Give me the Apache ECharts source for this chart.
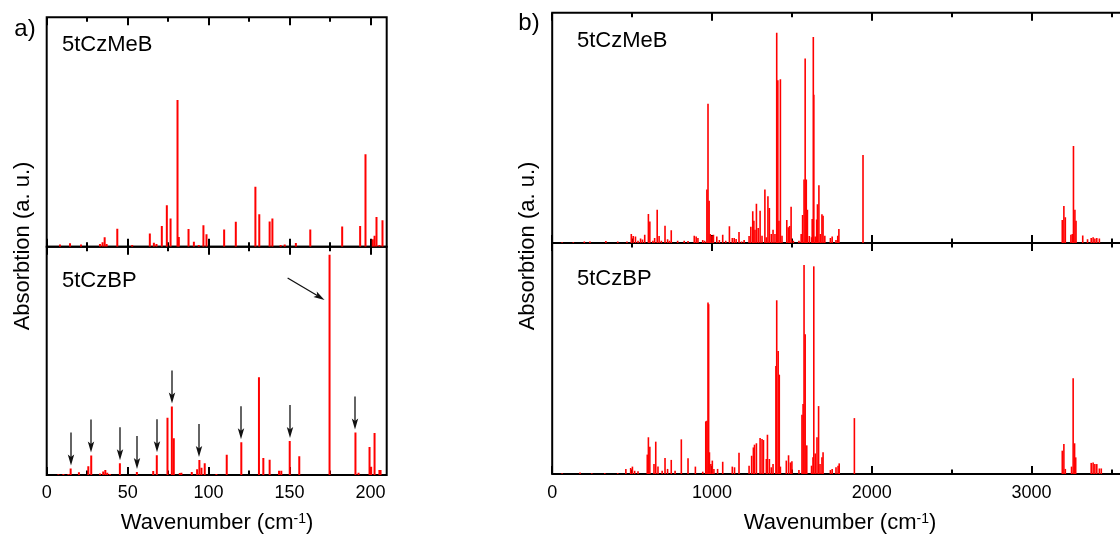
<!DOCTYPE html>
<html><head><meta charset="utf-8">
<script src="https://cdn.jsdelivr.net/npm/echarts@6/dist/echarts.min.js"></script>
<style>html,body{margin:0;padding:0;background:#fff}#c{width:1120px;height:543px}</style>
</head><body><div id="c"></div>
<script>
const FONT = '"Liberation Sans", Arial, sans-serif';

// ---- Panel a: low-frequency region (wavenumber cm^-1, absorption a.u. as % of frame) ----
const lowMeB = [[8.2,1.0],[14.4,1.5],[21.2,1.0],[32.9,1.2],[34.5,1.9],[35.8,4.1],[37.0,1.2],[43.6,7.8],[52.8,0.7],[63.7,5.8],[66.2,1.7],[67.8,1.2],[71.1,9.0],[74.2,18.1],[76.5,12.3],[80.8,63.9],[81.6,4.2],[87.6,7.7],[90.9,2.2],[93.9,0.7],[96.8,9.3],[98.7,5.4],[109.6,7.5],[116.8,10.9],[128.9,26.1],[131.3,14.2],[137.7,11.0],[139.4,12.3],[144.5,0.7],[147.0,1.0],[153.9,1.6],[162.8,7.5],[182.5,8.8],[193.6,9.0],[196.9,40.3],[201.4,3.2],[202.5,4.8],[203.7,12.9],[205.5,0.7],[207.4,11.5]];
const lowBP = [[7.2,0.3],[10.3,0.4],[13.4,0.4],[14.8,2.8],[19.9,1.2],[25.7,3.8],[27.5,8.5],[32.9,0.7],[34.9,1.5],[36.2,2.2],[37.4,1.0],[39.1,0.4],[45.2,5.1],[55.7,1.3],[65.8,1.8],[68.0,8.6],[74.6,25.1],[77.3,30.0],[78.5,16.1],[82.2,0.9],[83.2,1.0],[89.6,1.3],[92.9,2.5],[94.3,6.6],[95.6,3.2],[97.6,5.1],[104.8,0.4],[111.2,8.9],[120.2,14.3],[131.1,42.8],[133.8,7.5],[137.7,6.7],[143.5,1.9],[144.9,1.9],[150.1,14.9],[156.0,8.2],[174.7,96.5],[190.7,18.6],[192.6,1.0],[199.4,12.3],[200.4,3.6],[202.5,18.4],[205.5,2.2],[206.2,2.2]];
// bars marked with vertical arrows (wavenumbers)
const arrowTargets = [14.8,27.5,45.2,55.7,68.0,77.3,94.3,120.2,150.1,190.7];
// diagonal arrow pointing at the strongest 5tCzBP band: [from, to] in data space
const pointerArrow = [[148.8,86.3],[171.6,76.7]];

// ---- Panel b: full range ----
const fullMeB = [[62,0.3],[132,0.3],[201,0.6],[236,0.6],[336,0.9],[410,0.6],[468,0.7],[495,3.9],[507,3.0],[521,2.8],[537,1.0],[553,2.0],[565,1.5],[579,3.6],[602,12.6],[611,9.3],[630,1.0],[641,2.2],[657,14.4],[669,3.0],[683,1.0],[706,7.5],[722,1.6],[734,1.0],[745,5.5],[785,1.0],[826,1.0],[850,0.9],[889,3.2],[901,2.8],[912,2.2],[942,1.3],[954,1.0],[968,23.2],[975,60.5],[982,18.3],[989,3.9],[1000,3.2],[1009,3.6],[1030,2.8],[1046,1.3],[1067,3.6],[1086,1.0],[1109,7.3],[1127,2.2],[1139,2.2],[1151,1.7],[1169,4.8],[1185,0.7],[1201,1.3],[1232,3.0],[1243,7.1],[1255,13.8],[1262,9.7],[1269,5.7],[1278,17.0],[1289,6.5],[1301,14.0],[1313,3.2],[1331,23.2],[1340,2.5],[1350,20.3],[1359,15.2],[1371,3.9],[1382,5.7],[1394,3.9],[1405,91.3],[1412,70.7],[1419,9.7],[1428,71.1],[1438,3.2],[1468,10.0],[1477,6.8],[1486,7.4],[1495,15.7],[1509,1.0],[1544,1.0],[1558,3.9],[1567,12.2],[1576,27.6],[1583,80.1],[1590,27.6],[1597,14.4],[1609,3.0],[1623,2.5],[1627,10.4],[1634,89.5],[1637,64.4],[1646,2.8],[1655,10.2],[1660,16.8],[1669,25.1],[1678,3.9],[1688,12.5],[1695,11.8],[1706,3.2],[1741,2.2],[1752,2.8],[1776,1.3],[1787,3.2],[1794,6.1],[1945,38.2],[3192,10.0],[3202,16.1],[3211,11.2],[3246,3.6],[3255,3.9],[3262,42.1],[3271,14.4],[3278,9.7],[3320,3.3],[3350,1.6],[3373,2.2],[3385,2.5],[3396,1.9],[3408,2.2],[3424,1.9]];
const fullBP = [[62,0.3],[174,0.7],[248,0.3],[329,0.4],[410,0.4],[461,2.2],[491,2.6],[502,3.2],[516,1.4],[537,1.2],[595,8.4],[602,15.9],[611,11.8],[637,4.3],[648,14.0],[662,3.2],[688,1.4],[706,6.9],[722,2.2],[745,6.1],[769,1.4],[808,15.0],[850,6.8],[896,3.2],[942,1.0],[961,22.8],[968,23.1],[975,74.2],[979,73.5],[984,9.4],[993,4.3],[1002,5.8],[1012,2.2],[1035,2.2],[1067,5.3],[1127,3.2],[1141,2.9],[1169,9.2],[1232,3.6],[1248,7.9],[1259,11.5],[1266,12.7],[1278,13.3],[1301,15.6],[1313,15.1],[1322,14.7],[1340,6.5],[1347,17.0],[1359,6.5],[1371,2.9],[1382,4.3],[1400,46.8],[1405,75.2],[1414,53.3],[1421,43.0],[1428,3.2],[1465,5.8],[1479,8.1],[1491,5.0],[1500,5.5],[1544,1.7],[1563,25.6],[1570,30.3],[1576,90.5],[1583,60.5],[1593,12.4],[1623,3.6],[1632,7.2],[1637,89.9],[1646,8.9],[1657,15.9],[1667,29.4],[1676,4.3],[1688,7.2],[1695,9.4],[1741,1.7],[1752,2.2],[1776,2.9],[1789,3.6],[1796,4.6],[1891,24.2],[3192,10.1],[3202,13.0],[3211,2.2],[3250,3.2],[3260,41.5],[3269,13.3],[3276,7.2],[3373,4.8],[3385,5.0],[3396,4.3],[3408,4.3],[3424,2.4],[3436,2.4]];

// ---- axis ticks ----
const aMajor = [0,50,100,150,200];
const aMinor = [25,75,125,175];
const aLabels = [0,50,100,150,200];
const bMajor = [0,1000,2000,3000,4000];
const bMinor = [500,1500,2500,3500];
const bLabels = [0,1000,2000,3000];

const compoundLabels = ['5tCzMeB','5tCzBP'];

const chart = echarts.init(document.getElementById('c'), null, {renderer:'canvas'});

const grids = [
  {left:46.7, top:17.3, width:340, height:229.4},
  {left:46.7, top:246.7, width:340, height:228.3},
  {left:552.2, top:12.7, width:639.2, height:230.3},
  {left:552.2, top:243, width:639.2, height:231}
].map(g => Object.assign(g, {show:true, borderColor:'#000', borderWidth:2, backgroundColor:'transparent', containLabel:false, outerBoundsMode:'none'}));

function xAxes(gi, range, major, minor, labels, showLabel, fs, margin){
  const mk = (pos, ticks, len, lab) => ({
    type:'value', gridIndex:gi, position:pos, min:range[0], max:range[1],
    axisLine:{show:false}, splitLine:{show:false},
    axisTick:{show:true, inside:true, length:len, customValues:ticks, lineStyle:{color:'#000', width:2}},
    axisLabel:{show:lab, customValues:labels, fontSize:fs, fontFamily:FONT, color:'#000', margin:margin, formatter:v=>String(v)}
  });
  return [mk('bottom', major, 8, showLabel), mk('bottom', minor, 4.5, false), mk('top', major, 8, false), mk('top', minor, 4.5, false)];
}
const xAxis = [].concat(
  xAxes(0,[0,210],aMajor,aMinor,aLabels,false,18,9),
  xAxes(1,[0,210],aMajor,aMinor,aLabels,true,18,9),
  xAxes(2,[0,4000],bMajor,bMinor,bLabels,false,18,10),
  xAxes(3,[0,4000],bMajor,bMinor,bLabels,true,18,10)
);
const yAxis = [0,1,2,3].map(gi => ({type:'value', gridIndex:gi, min:0, max:100, show:false}));

function stickSeries(gi, data, w){
  return {
    type:'custom', xAxisIndex:gi*4, yAxisIndex:gi, clip:true, data:data,
    renderItem:(params, api) => {
      const x = api.value(0), y = api.value(1);
      const p0 = api.coord([x,0]), p1 = api.coord([x,y]);
      return {type:'rect', shape:{x:p0[0]-w/2, y:p1[1], width:w, height:p0[1]-p1[1]}, style:{fill:'#ff0000'}};
    }
  };
}

const arrowData = arrowTargets.map(t => {
  const b = lowBP.find(d => Math.abs(d[0]-t) < 0.05);
  return [t, b ? b[1] : 0];
});

const arrowSeries = {
  type:'custom', xAxisIndex:4, yAxisIndex:1, data:arrowData, z:5,
  renderItem:(params, api) => {
    const p = api.coord([api.value(0), api.value(1)]);
    const x = Math.round(p[0]) , tip = p[1]-3;
    return {type:'group', children:[
      {type:'line', shape:{x1:x, y1:tip-33, x2:x, y2:tip-8}, style:{stroke:'#111', lineWidth:1.3}},
      {type:'polygon', shape:{points:[[x-3.2,tip-11],[x,tip-8.5],[x+3.2,tip-11],[x,tip]]}, style:{fill:'#111'}}
    ]};
  }
};

const pointerSeries = {
  type:'custom', xAxisIndex:4, yAxisIndex:1, data:[[pointerArrow[0][0],pointerArrow[0][1],pointerArrow[1][0],pointerArrow[1][1]]], z:5,
  renderItem:(params, api) => {
    const a = api.coord([api.value(0), api.value(1)]);
    const b = api.coord([api.value(2), api.value(3)]);
    const ang = Math.atan2(b[1]-a[1], b[0]-a[0]);
    const L = 11, H = 3.3;
    const bx = b[0]-L*Math.cos(ang), by = b[1]-L*Math.sin(ang);
    const nx = -Math.sin(ang), ny = Math.cos(ang);
    const mx = b[0]-(L-2.5)*Math.cos(ang), my = b[1]-(L-2.5)*Math.sin(ang);
    return {type:'group', children:[
      {type:'line', shape:{x1:a[0], y1:a[1], x2:mx, y2:my}, style:{stroke:'#111', lineWidth:1.3}},
      {type:'polygon', shape:{points:[[bx+nx*H,by+ny*H],[mx,my],[bx-nx*H,by-ny*H],[b[0],b[1]]]}, style:{fill:'#111'}}
    ]};
  }
};

function txt(x, y, text, fs, opts){
  return Object.assign({type:'text', x:x, y:y, z:10, style:Object.assign({text:text, fontSize:fs, fontFamily:FONT, fill:'#000', align:'left', verticalAlign:'middle'}, (opts&&opts.style)||{})}, (opts&&opts.el)||{});
}
const wnRich = {sup:{fontSize:14, fontFamily:FONT, fill:'#000', lineHeight:12, verticalAlign:'top'}};

const graphic = [
  txt(25, 29, 'a)', 24, {style:{align:'center'}}),
  txt(529, 23, 'b)', 24, {style:{align:'center'}}),
  txt(62, 45, compoundLabels[0], 22),
  txt(62, 281, compoundLabels[1], 22),
  txt(577, 41, compoundLabels[0], 22),
  txt(577, 279, compoundLabels[1], 22),
  txt(23, 246, 'Absorbtion (a. u.)', 22, {style:{align:'center'}, el:{rotation:Math.PI/2}}),
  txt(528, 246, 'Absorbtion (a. u.)', 22, {style:{align:'center'}, el:{rotation:Math.PI/2}}),
  txt(217, 523, 'Wavenumber (cm{sup|-1})', 22, {style:{align:'center', rich:wnRich}}),
  txt(840, 523, 'Wavenumber (cm{sup|-1})', 22, {style:{align:'center', rich:wnRich}})
];

chart.setOption({
  animation:false,
  backgroundColor:'#fff',
  grid:grids, xAxis:xAxis, yAxis:yAxis,
  series:[
    stickSeries(0, lowMeB, 2),
    stickSeries(1, lowBP, 2),
    stickSeries(2, fullMeB, 1.6),
    stickSeries(3, fullBP, 1.6),
    arrowSeries, pointerSeries
  ],
  graphic:graphic
});
</script></body></html>
